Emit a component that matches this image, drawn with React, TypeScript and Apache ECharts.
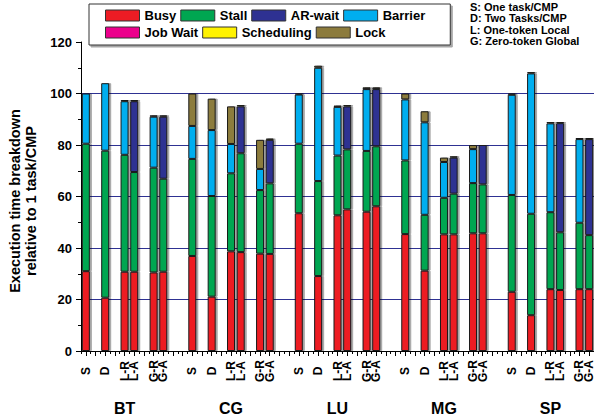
import React, { useEffect, useRef } from 'react';
import * as echarts from 'echarts';

// Benchmarks (groups) and configurations inside each group
const benchmarks = ['BT', 'CG', 'LU', 'MG', 'SP'];
const configs = ['S', 'D', 'L-R', 'L-A', 'G-R', 'G-A'];
// Slot layout of one group on the category axis ('' = gap)
const groupSlots = ['S', '', 'D', '', 'L-R', 'L-A', '', 'G-R', 'G-A', '', ''];

// Values per benchmark, in config order S, D, L-R, L-A, G-R, G-A
const busy = [
  31.0, 20.7, 30.8, 30.8, 30.5, 30.8,
  36.9, 21.1, 38.7, 38.4, 37.8, 37.7,
  53.5, 29.1, 52.7, 55.0, 54.1, 56.2,
  45.4, 31.2, 45.3, 45.3, 45.7, 45.7,
  23.0, 13.9, 24.0, 23.7, 24.0, 24.0,
];
const stall = [
  49.5, 57.1, 45.4, 38.7, 40.7, 36.1,
  37.7, 39.1, 30.3, 38.4, 24.7, 27.4,
  27.0, 36.9, 23.2, 23.3, 23.6, 23.3,
  28.6, 21.7, 14.2, 15.8, 19.5, 19.0,
  37.6, 39.4, 29.9, 22.4, 25.8, 21.0,
];
const arWait = [
  0, 0, 0, 27.5, 0, 24.1,
  0, 0, 0, 18.2, 0, 16.9,
  0, 0, 0, 16.7, 0, 22.2,
  0, 0, 0, 14.0, 0, 15.3,
  0, 0, 0, 42.4, 0, 37.3,
];
const barrier = [
  19.5, 26.2, 20.8, 0, 19.8, 0,
  12.8, 25.6, 11.4, 0, 8.2, 0,
  19.1, 44.0, 18.9, 0, 24.0, 0,
  23.7, 35.9, 13.9, 0, 13.2, 0,
  38.9, 54.5, 34.5, 0, 32.5, 0,
];
const jobWait = [
  0, 0, 0, 0, 0, 0,
  0, 0, 0, 0, 0, 0,
  0, 0, 0, 0, 0, 0,
  0, 0, 0, 0, 0, 0,
  0, 0, 0, 0, 0, 0,
];
const scheduling = [
  0, 0, 0, 0, 0, 0,
  0, 0, 0, 0, 0, 0,
  0, 0, 0, 0, 0, 0,
  0, 0, 0, 0, 0, 0,
  0, 0, 0, 0, 0, 0,
];
const lock = [
  0, 0, 0.5, 0.5, 0.5, 0.5,
  12.6, 12.2, 14.6, 0.5, 11.3, 0.5,
  0.4, 0.8, 0.5, 0.5, 0.7, 0.7,
  2.3, 4.3, 1.7, 0.5, 1.6, 0.3,
  0.5, 0.5, 0.5, 0.5, 0.5, 0.5,
];

const seriesNames = ['Busy', 'Stall', 'AR-wait', 'Barrier', 'Job Wait', 'Scheduling', 'Lock'];
const seriesValues = [busy, stall, arWait, barrier, jobWait, scheduling, lock];
const seriesColors = ['#ED1C24', '#00A651', '#2E3192', '#00AEEF', '#EC008C', '#FFF200', '#8C7B3C'];

const yTicks = [0, 20, 40, 60, 80, 100, 120];
const noteLines = ['S: One task/CMP', 'D: Two Tasks/CMP', 'L: One-token Local', 'G: Zero-token Global'];

const FONT = '"Liberation Sans", Arial, Helvetica, sans-serif';

export default function App() {
  const ref = useRef<HTMLDivElement>(null);

  useEffect(() => {
    document.body.style.margin = '0';
    if (!ref.current) return;
    const chart = echarts.init(ref.current, undefined, { renderer: 'svg' });

    // Build slots
    const slotLabels: string[] = [];
    const slotGroupLabels: string[] = [];
    const slotIndex: (number | null)[] = [];
    benchmarks.forEach((b, g) => {
      const slots = g === benchmarks.length - 1 ? groupSlots.slice(0, 9) : groupSlots;
      slots.forEach((s, k) => {
        slotLabels.push(s);
        slotGroupLabels.push(k === 4 ? b : '');
        slotIndex.push(s === '' ? null : g * configs.length + configs.indexOf(s));
      });
    });

    const series = seriesNames.map((name, si) => ({
      name,
      type: 'bar',
      stack: 'total',
      barWidth: 8,
      xAxisIndex: 0,
      itemStyle: {
        color: seriesColors[si],
        borderColor: '#1a1a1a',
        borderWidth: 1,
        shadowColor: 'rgba(0,0,0,0.35)',
        shadowOffsetX: 2,
        shadowBlur: 1,
      },
      data: slotIndex.map((idx) => {
        if (idx === null) return '-';
        const v = seriesValues[si][idx];
        return v === 0 ? '-' : v;
      }),
    }));

    chart.setOption({
      animation: false,
      textStyle: { fontFamily: FONT },
      grid: { left: 81, right: 0, top: 42, bottom: 67, containLabel: false, outerBoundsMode: 'none' },
      legend: {
        left: 89,
        top: 4,
        orient: 'horizontal',
        data: ['Busy', 'Stall', 'AR-wait', 'Barrier', '', 'Job Wait', 'Scheduling', 'Lock'],
        itemWidth: 34,
        itemHeight: 11,
        itemGap: 4,
        icon: 'rect',
        padding: [5, 25, 6, 16],
        backgroundColor: '#fff',
        borderColor: '#333',
        borderWidth: 1,
        shadowColor: 'rgba(0,0,0,0.35)',
        shadowOffsetX: 2,
        shadowOffsetY: 2,
        shadowBlur: 1,
        itemStyle: { borderColor: '#333', borderWidth: 1 },
        textStyle: { fontFamily: FONT, fontSize: 13, fontWeight: 'bold', color: '#000', lineHeight: 13 },
      },
      graphic: [
        {
          type: 'text',
          left: 470,
          top: 1,
          style: {
            text: noteLines.join('\n'),
            font: `bold 11px ${FONT}`,
            lineHeight: 11.4,
            fill: '#000',
          },
        },
      ],
      xAxis: [
        {
          type: 'category',
          data: slotLabels,
          boundaryGap: true,
          axisLine: { show: true, lineStyle: { color: '#000', width: 1 } },
          axisTick: { show: true, interval: 0, length: 3, lineStyle: { color: '#000' } },
          axisLabel: {
            interval: 0,
            rotate: 90,
            align: 'center',
            verticalAlign: 'middle',
            margin: 20,
            fontFamily: FONT,
            fontSize: 12,
            fontWeight: 'bold',
            color: '#000',
          },
          splitLine: { show: false },
        },
        {
          type: 'category',
          data: slotGroupLabels,
          position: 'bottom',
          boundaryGap: true,
          axisLine: { show: false },
          axisTick: { show: true, interval: 0, alignWithLabel: true, length: 5, lineStyle: { color: '#000' } },
          axisLabel: {
            interval: 0,
            margin: 49,
            fontFamily: FONT,
            fontSize: 16,
            fontWeight: 'bold',
            lineHeight: 16,
            color: '#000',
          },
          splitLine: { show: false },
        },
      ],
      yAxis: {
        type: 'value',
        min: yTicks[0],
        max: yTicks[yTicks.length - 1],
        interval: 20,
        name: 'Execution time breakdown\nrelative to 1 task/CMP',
        nameLocation: 'middle',
        nameGap: 38,
        nameTextStyle: {
          fontFamily: FONT,
          fontSize: 14.5,
          fontWeight: 'bold',
          color: '#000',
          lineHeight: 16,
          padding: [0, 9, 0, 0],
        },
        axisLine: { show: true, lineStyle: { color: '#000', width: 1 } },
        axisTick: { show: true, inside: false, length: 5, lineStyle: { color: '#000' } },
        minorTick: { show: true, splitNumber: 2, length: 3, lineStyle: { color: '#000' } },
        axisLabel: { margin: 9, fontFamily: FONT, fontSize: 13, fontWeight: 'bold', color: '#000' },
        splitLine: { show: true, showMinLine: false, showMaxLine: false, lineStyle: { color: '#2E3192', width: 1 } },
      },
      series,
    });

    return () => {
      chart.dispose();
    };
  }, []);

  return <div ref={ref} style={{ width: 594, height: 418 }} />;
}
